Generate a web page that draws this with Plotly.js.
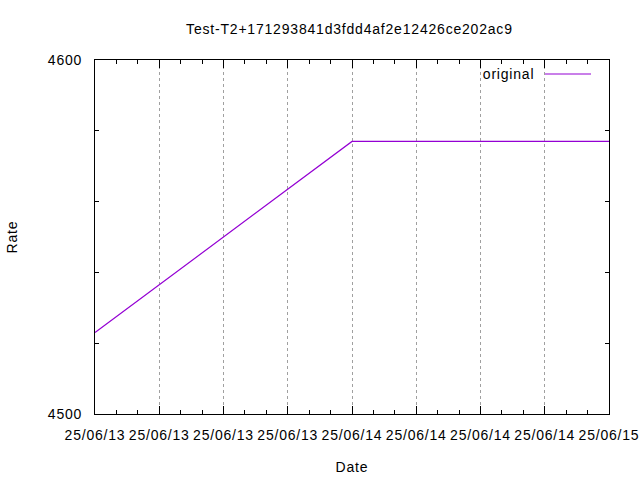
<!DOCTYPE html>
<html><head><meta charset="utf-8">
<script src="https://cdn.plot.ly/plotly-3.0.1.min.js"></script>
<style>html,body{margin:0;padding:0;background:#fff}
#chart text{letter-spacing:0.8px}</style>
</head><body>
<div id="chart" style="width:640px;height:480px"></div>
<script>
const dates = ['2025-06-13 00:00', '2025-06-14 00:00', '2025-06-15 00:00'];
const rates = [4523, 4577, 4577];
const seriesName = 'original';
const yTickVals = [4500, 4600];
const titleText = 'Test-T2+171293841d3fdd4af2e12426ce202ac9';

const font = {family: 'Liberation Sans, Arial, sans-serif', size: 14, color: '#000'};
const lineColor = '#9400d3';

const trace = {
  x: dates, y: rates, type: 'scatter', mode: 'lines', name: seriesName,
  line: {color: lineColor, width: 1.2}, showlegend: false
};

const layout = {
  width: 640, height: 480,
  margin: {l: 95, r: 31, t: 60, b: 66},
  paper_bgcolor: '#fff', plot_bgcolor: '#fff',
  font: font,
  title: {text: titleText, font: font, x: 0.546, xanchor: 'center', y: 0.94, yanchor: 'middle'},
  xaxis: {
    type: 'date', range: ['2025-06-13 00:00', '2025-06-15 00:00'],
    tick0: '2025-06-13 00:00', dtick: 6 * 3600000, tickformat: '%y/%m/%d',
    ticks: 'inside', ticklen: 8, tickcolor: '#000', showline: true, linecolor: '#000', linewidth: 1,
    mirror: 'allticks', showgrid: true, gridcolor: '#a0a0a0', griddash: 'dot', gridwidth: 1,
    zeroline: false, tickfont: font, ticklabelstandoff: 8,
    minor: {dtick: 2 * 3600000, ticks: 'inside', ticklen: 4, tickcolor: '#000', showgrid: false},
    title: {text: 'Date', font: font, standoff: 20}
  },
  yaxis: {
    range: [4500, 4600], tickmode: 'array', tickvals: yTickVals,
    ticks: 'inside', ticklen: 8, tickcolor: '#000', showline: true, linecolor: '#000', linewidth: 1,
    mirror: 'allticks', showgrid: false, zeroline: false, tickfont: font, ticklabelstandoff: 9,
    minor: {dtick: 20, tick0: 4500, ticks: 'inside', ticklen: 4, tickcolor: '#000', showgrid: false},
    title: {text: 'Rate', font: font, standoff: 30}
  },
  annotations: [{
    xref: 'paper', yref: 'paper', x: 0.852, y: 0.9605, xanchor: 'right', yanchor: 'middle',
    text: seriesName, showarrow: false, font: font
  }],
  shapes: [{
    type: 'line', xref: 'paper', yref: 'paper', x0: 0.8755, x1: 0.965, y0: 0.9605, y1: 0.9605,
    line: {color: lineColor, width: 1.2}
  }]
};

Plotly.newPlot('chart', [trace], layout, {displayModeBar: false, staticPlot: true});
</script>
</body></html>
